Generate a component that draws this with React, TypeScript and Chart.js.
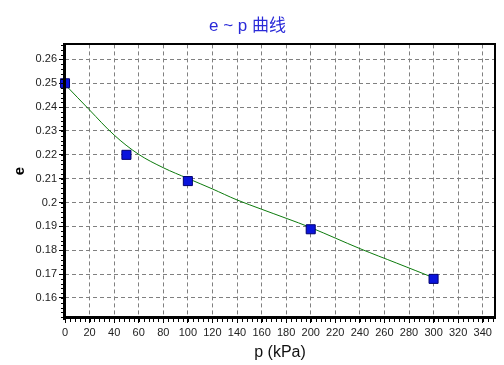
import React, { useEffect, useRef } from 'react';
import { Chart, registerables } from 'chart.js';

Chart.register(...registerables);

// Measured points
const pressureKPa = [0, 50, 100, 200, 300];
const voidRatio = [0.25, 0.22, 0.209, 0.1888, 0.168];

// Fitted curve
const curveP = [0, 20, 40, 60, 80, 100, 120, 140, 160, 180, 200, 240, 270, 300];
const curveE = [0.2495, 0.2388, 0.2283, 0.2202, 0.2146, 0.2101, 0.2057, 0.2011, 0.1972, 0.1934, 0.1895, 0.1807, 0.1746, 0.1685];

const titleText = 'e ~ p 曲线';
const xTitle = 'p (kPa)';
const yTitle = 'e';

const xMin = 0;
const xMax = 350;
const xStep = 20;
const xMinorStep = 4;
const yMin = 0.1516;
const yMax = 0.2663;
const yStep = 0.01;
const yMinorStep = 0.002;

const FONT = "'Liberation Sans', Arial, 'Noto Sans CJK SC', sans-serif";

const decorPlugin = {
  id: 'decor',
  afterDatasetsDraw(chart: any) {
    const { ctx, chartArea: ca, scales } = chart;
    const x = scales.x;
    const y = scales.y;
    ctx.save();
    // minor ticks
    ctx.strokeStyle = '#000';
    ctx.lineWidth = 1;
    ctx.beginPath();
    const nx = Math.floor((xMax - xMin) / xMinorStep + 1e-9);
    for (let i = 0; i <= nx; i++) {
      const v = xMin + i * xMinorStep;
      const px = Math.round(x.getPixelForValue(v)) + 0.5;
      ctx.moveTo(px, ca.bottom);
      ctx.lineTo(px, ca.bottom + 4);
    }
    const y0 = Math.ceil(yMin / yMinorStep - 1e-9);
    const y1 = Math.floor(yMax / yMinorStep + 1e-9);
    for (let i = y0; i <= y1; i++) {
      const v = i * yMinorStep;
      const py = Math.round(y.getPixelForValue(v)) + 0.5;
      ctx.moveTo(ca.left, py);
      ctx.lineTo(ca.left - 4, py);
    }
    ctx.stroke();
    // frame
    ctx.fillStyle = '#000';
    const L = Math.round(ca.left), R = Math.round(ca.right), T = Math.round(ca.top), B = Math.round(ca.bottom);
    ctx.fillRect(L - 2, T - 1, 3, B - T + 3);
    ctx.fillRect(L - 2, B - 2, R - L + 3, 3);
    ctx.fillRect(L - 2, T - 1, R - L + 3, 2);
    ctx.fillRect(R - 1, T - 1, 2, B - T + 2);
    // y title
    ctx.translate(20, 171);
    ctx.rotate(-Math.PI / 2);
    ctx.font = `bold 15px ${FONT}`;
    ctx.textAlign = 'center';
    ctx.textBaseline = 'middle';
    ctx.fillStyle = '#000';
    ctx.fillText(yTitle, 0, 0);
    ctx.restore();
  },
};

export default function App() {
  const ref = useRef<HTMLCanvasElement | null>(null);
  useEffect(() => {
    if (!ref.current) return;
    const chart = new Chart(ref.current, {
      type: 'scatter',
      data: {
        datasets: [
          {
            type: 'scatter',
            label: 'measured',
            data: pressureKPa.map((p, i) => ({ x: p, y: voidRatio[i] })),
            pointStyle: 'rect',
            pointRadius: 6.4,
            pointBackgroundColor: '#0a14dc',
            pointBorderColor: '#000070',
            pointBorderWidth: 1,
            clip: false,
          } as any,
          {
            type: 'line',
            label: 'fit',
            data: curveP.map((p, i) => ({ x: p, y: curveE[i] })),
            borderColor: '#0c7a0c',
            borderWidth: 1,
            pointRadius: 0,
            tension: 0.35,
            fill: false,
          } as any,
        ],
      },
      options: {
        animation: false,
        responsive: true,
        maintainAspectRatio: false,
        layout: { padding: { left: 0, right: 9, top: 0, bottom: 0 } },
        plugins: {
          legend: { display: false },
          tooltip: { enabled: false },
          title: {
            display: true,
            text: titleText,
            color: '#2a2ad8',
            font: { family: FONT, size: 17, weight: 'normal' },
            padding: { top: 16, bottom: 8 },
          },
        },
        scales: {
          x: {
            type: 'linear',
            min: xMin,
            max: xMax,
            afterFit: (s: any) => { s.height = 47; },
            ticks: {
              stepSize: xStep,
              includeBounds: false,
              autoSkip: false,
              maxRotation: 0,
              padding: 3,
              color: '#222',
              font: { family: FONT, size: 11 },
            },
            grid: {
              color: '#808080',
              lineWidth: 1,
              drawTicks: true,
              tickLength: 5,
              tickColor: '#000',
              tickWidth: 1,
            },
            border: { display: false, dash: [4, 3] },
            title: {
              display: true,
              text: xTitle,
              color: '#111',
              font: { family: FONT, size: 16 },
              padding: { top: 0, bottom: 3 },
            },
          },
          y: {
            type: 'linear',
            min: yMin,
            max: yMax,
            afterFit: (s: any) => { s.width = 65; },
            ticks: {
              stepSize: yStep,
              includeBounds: false,
              padding: 2,
              color: '#222',
              font: { family: FONT, size: 11 },
              callback: (v: any) => String(Number(Number(v).toFixed(2))),
            },
            grid: {
              color: '#808080',
              lineWidth: 1,
              drawTicks: true,
              tickLength: 6,
              tickColor: '#000',
              tickWidth: 1,
            },
            border: { display: false, dash: [4, 3] },
          },
        },
      },
      plugins: [decorPlugin],
    });
    return () => chart.destroy();
  }, []);
  return (
    <div style={{ position: 'absolute', left: 0, top: 0, width: 504, height: 365, background: '#fff' }}>
      <canvas ref={ref} />
    </div>
  );
}
